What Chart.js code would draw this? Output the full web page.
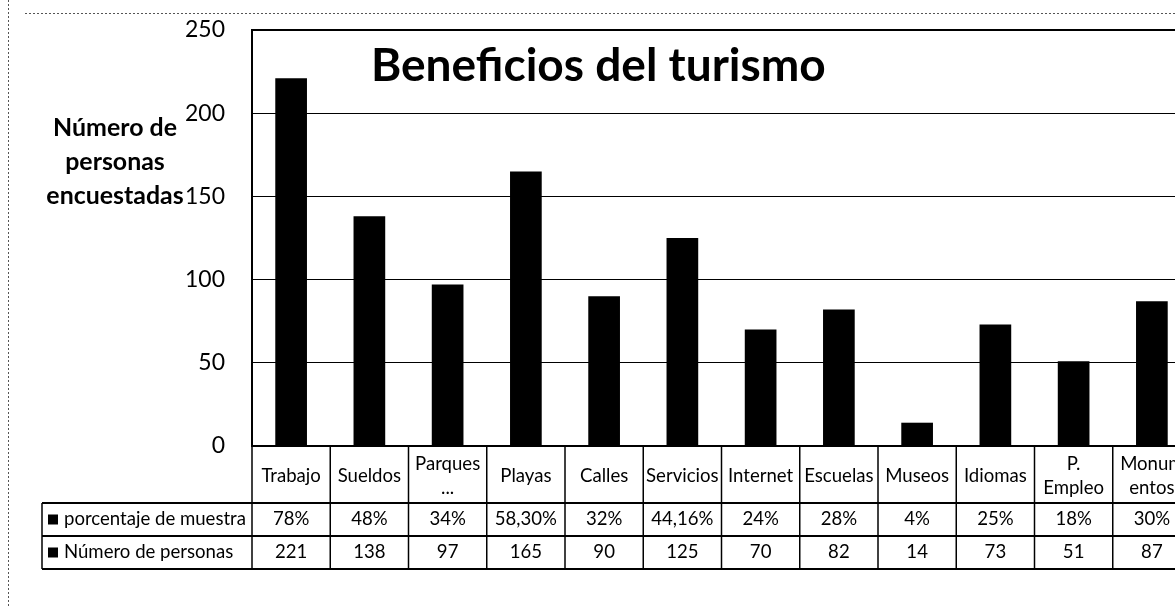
<!DOCTYPE html>
<html><head><meta charset="utf-8">
<script src="https://cdn.jsdelivr.net/npm/chart.js@4.4.0/dist/chart.umd.min.js"></script>
<style>html,body{margin:0;padding:0;background:#fff;overflow:hidden;} #wrap{width:1200px;height:606px;position:relative;}</style>
</head><body><div id="wrap"><canvas id="c" width="1200" height="606"></canvas></div>
<script>
const chartTitle = "Beneficios del turismo";
const yAxisTitle = ["Número de", "personas", "encuestadas"];
const categories = [["Trabajo"],["Sueldos"],["Parques","..."],["Playas"],["Calles"],["Servicios"],["Internet"],["Escuelas"],["Museos"],["Idiomas"],["P.","Empleo"],["Monum","entos"]];
const seriesNames = ["porcentaje de muestra", "Número de personas"];
const porcentajeMuestra = ["78%","48%","34%","58,30%","32%","44,16%","24%","28%","4%","25%","18%","30%"];
const numeroPersonas = [221,138,97,165,90,125,70,82,14,73,51,87];
const yMin = 0, yMax = 250, yStep = 50;

const FONT = "Lato, 'Noto Sans', sans-serif";
const PLOT_TOP = 30;
const canvas = document.getElementById('c');
const ctx0 = canvas.getContext('2d');
function fit(text, weight, target){
  ctx0.font = weight + ' 100px ' + FONT;
  return 100 * target / ctx0.measureText(text).width;
}
const titleSize = fit(chartTitle, 'bold', 455);
const tickSize = fit('250', 'normal', 40);
const tableSize = fit(seriesNames[0], 'normal', 182);
const yTitleSize = fit(yAxisTitle[0], 'bold', 124);

const tablePlugin = {
  id: 'tablePlugin',
  afterDraw(chart){
    const ctx = chart.ctx, a = chart.chartArea, xs = chart.scales.x;
    const n = categories.length;
    const cellW = xs.getPixelForValue(1) - xs.getPixelForValue(0);
    const t0 = a.bottom, r1 = t0 + 57, r2 = r1 + 33, r3 = r2 + 33;
    const headLeft = 42;
    const rightEnd = xs.getPixelForValue(n - 1) + cellW / 2;
    ctx.save();
    // outer dotted frame
    ctx.strokeStyle = '#555'; ctx.lineWidth = 1; ctx.setLineDash([2, 2]);
    ctx.beginPath(); ctx.moveTo(8.5, 0); ctx.lineTo(8.5, 606); ctx.stroke();
    ctx.beginPath(); ctx.moveTo(25, 13.5); ctx.lineTo(1200, 13.5); ctx.stroke();
    ctx.setLineDash([]);
    // title
    ctx.fillStyle = '#000';
    ctx.font = 'bold ' + titleSize + 'px ' + FONT;
    ctx.textAlign = 'left'; ctx.textBaseline = 'alphabetic';
    ctx.fillText(chartTitle, a.left + 119, a.top + 51);
    // y axis title
    ctx.font = 'bold ' + yTitleSize + 'px ' + FONT;
    ctx.textAlign = 'center'; ctx.textBaseline = 'middle';
    yAxisTitle.forEach((s, i) => ctx.fillText(s, 115, a.top + 98 + i * 34));
    // table lines
    ctx.strokeStyle = '#000';
    ctx.lineWidth = 2;
    [r1, r2, r3].forEach(y => { ctx.beginPath(); ctx.moveTo(headLeft, y); ctx.lineTo(rightEnd, y); ctx.stroke(); });
    ctx.lineWidth = 1.5;
    ctx.beginPath(); ctx.moveTo(headLeft, r1); ctx.lineTo(headLeft, r3); ctx.stroke();
    ctx.beginPath(); ctx.moveTo(a.left, t0); ctx.lineTo(a.left, r3); ctx.stroke();
    for (let i = 0; i < n; i++) {
      const x = xs.getPixelForValue(i) + cellW / 2;
      ctx.beginPath(); ctx.moveTo(x, t0); ctx.lineTo(x, r3); ctx.stroke();
    }
    // table text
    ctx.font = tableSize + 'px ' + FONT;
    ctx.textAlign = 'center'; ctx.textBaseline = 'middle';
    const cy0 = (t0 + r1) / 2 + 2, cy1 = (r1 + r2) / 2, cy2 = (r2 + r3) / 2;
    for (let i = 0; i < n; i++) {
      const cx = xs.getPixelForValue(i);
      const lines = categories[i];
      lines.forEach((s, k) => ctx.fillText(s, cx, cy0 + (k - (lines.length - 1) / 2) * 24));
      ctx.fillText(porcentajeMuestra[i], cx, cy1);
      ctx.fillText(String(numeroPersonas[i]), cx, cy2);
    }
    // row headers with legend keys
    ctx.textAlign = 'left';
    [cy1, cy2].forEach((cy, k) => {
      ctx.fillRect(48, cy - 5, 10, 10);
      ctx.fillText(seriesNames[k], 64, cy);
    });
    ctx.restore();
  }
};

const chart = new Chart(canvas, {
  type: 'bar',
  data: {
    labels: categories,
    datasets: [{
      label: seriesNames[1], data: numeroPersonas,
      backgroundColor: '#000', borderWidth: 0,
      categoryPercentage: 1, barPercentage: 0.405
    }]
  },
  options: {
    responsive: false, animation: false,
    layout: { padding: { left: 0, top: PLOT_TOP, right: 9, bottom: 160 } },
    plugins: { legend: { display: false }, tooltip: { enabled: false }, title: { display: false } },
    scales: {
      x: { display: false },
      y: {
        min: yMin, max: yMax,
        ticks: { stepSize: yStep, color: '#000', font: { family: FONT, size: tickSize }, padding: 27 },
        grid: { color: '#000', lineWidth: c => (c.tick && (c.tick.value === yMax || c.tick.value === yMin)) ? 2 : 1, drawTicks: false },
        border: { display: true, color: '#000', width: 2 },
        afterFit(s) { s.width = 252; s.paddingTop = 0; s.paddingBottom = 0; }
      }
    }
  },
  plugins: [tablePlugin]
});
const dTop = chart.chartArea.top - PLOT_TOP;
if (Math.abs(dTop) > 0.5) {
  chart.options.layout.padding.top = PLOT_TOP - dTop;
  chart.update();
}
</script>
</body></html>
